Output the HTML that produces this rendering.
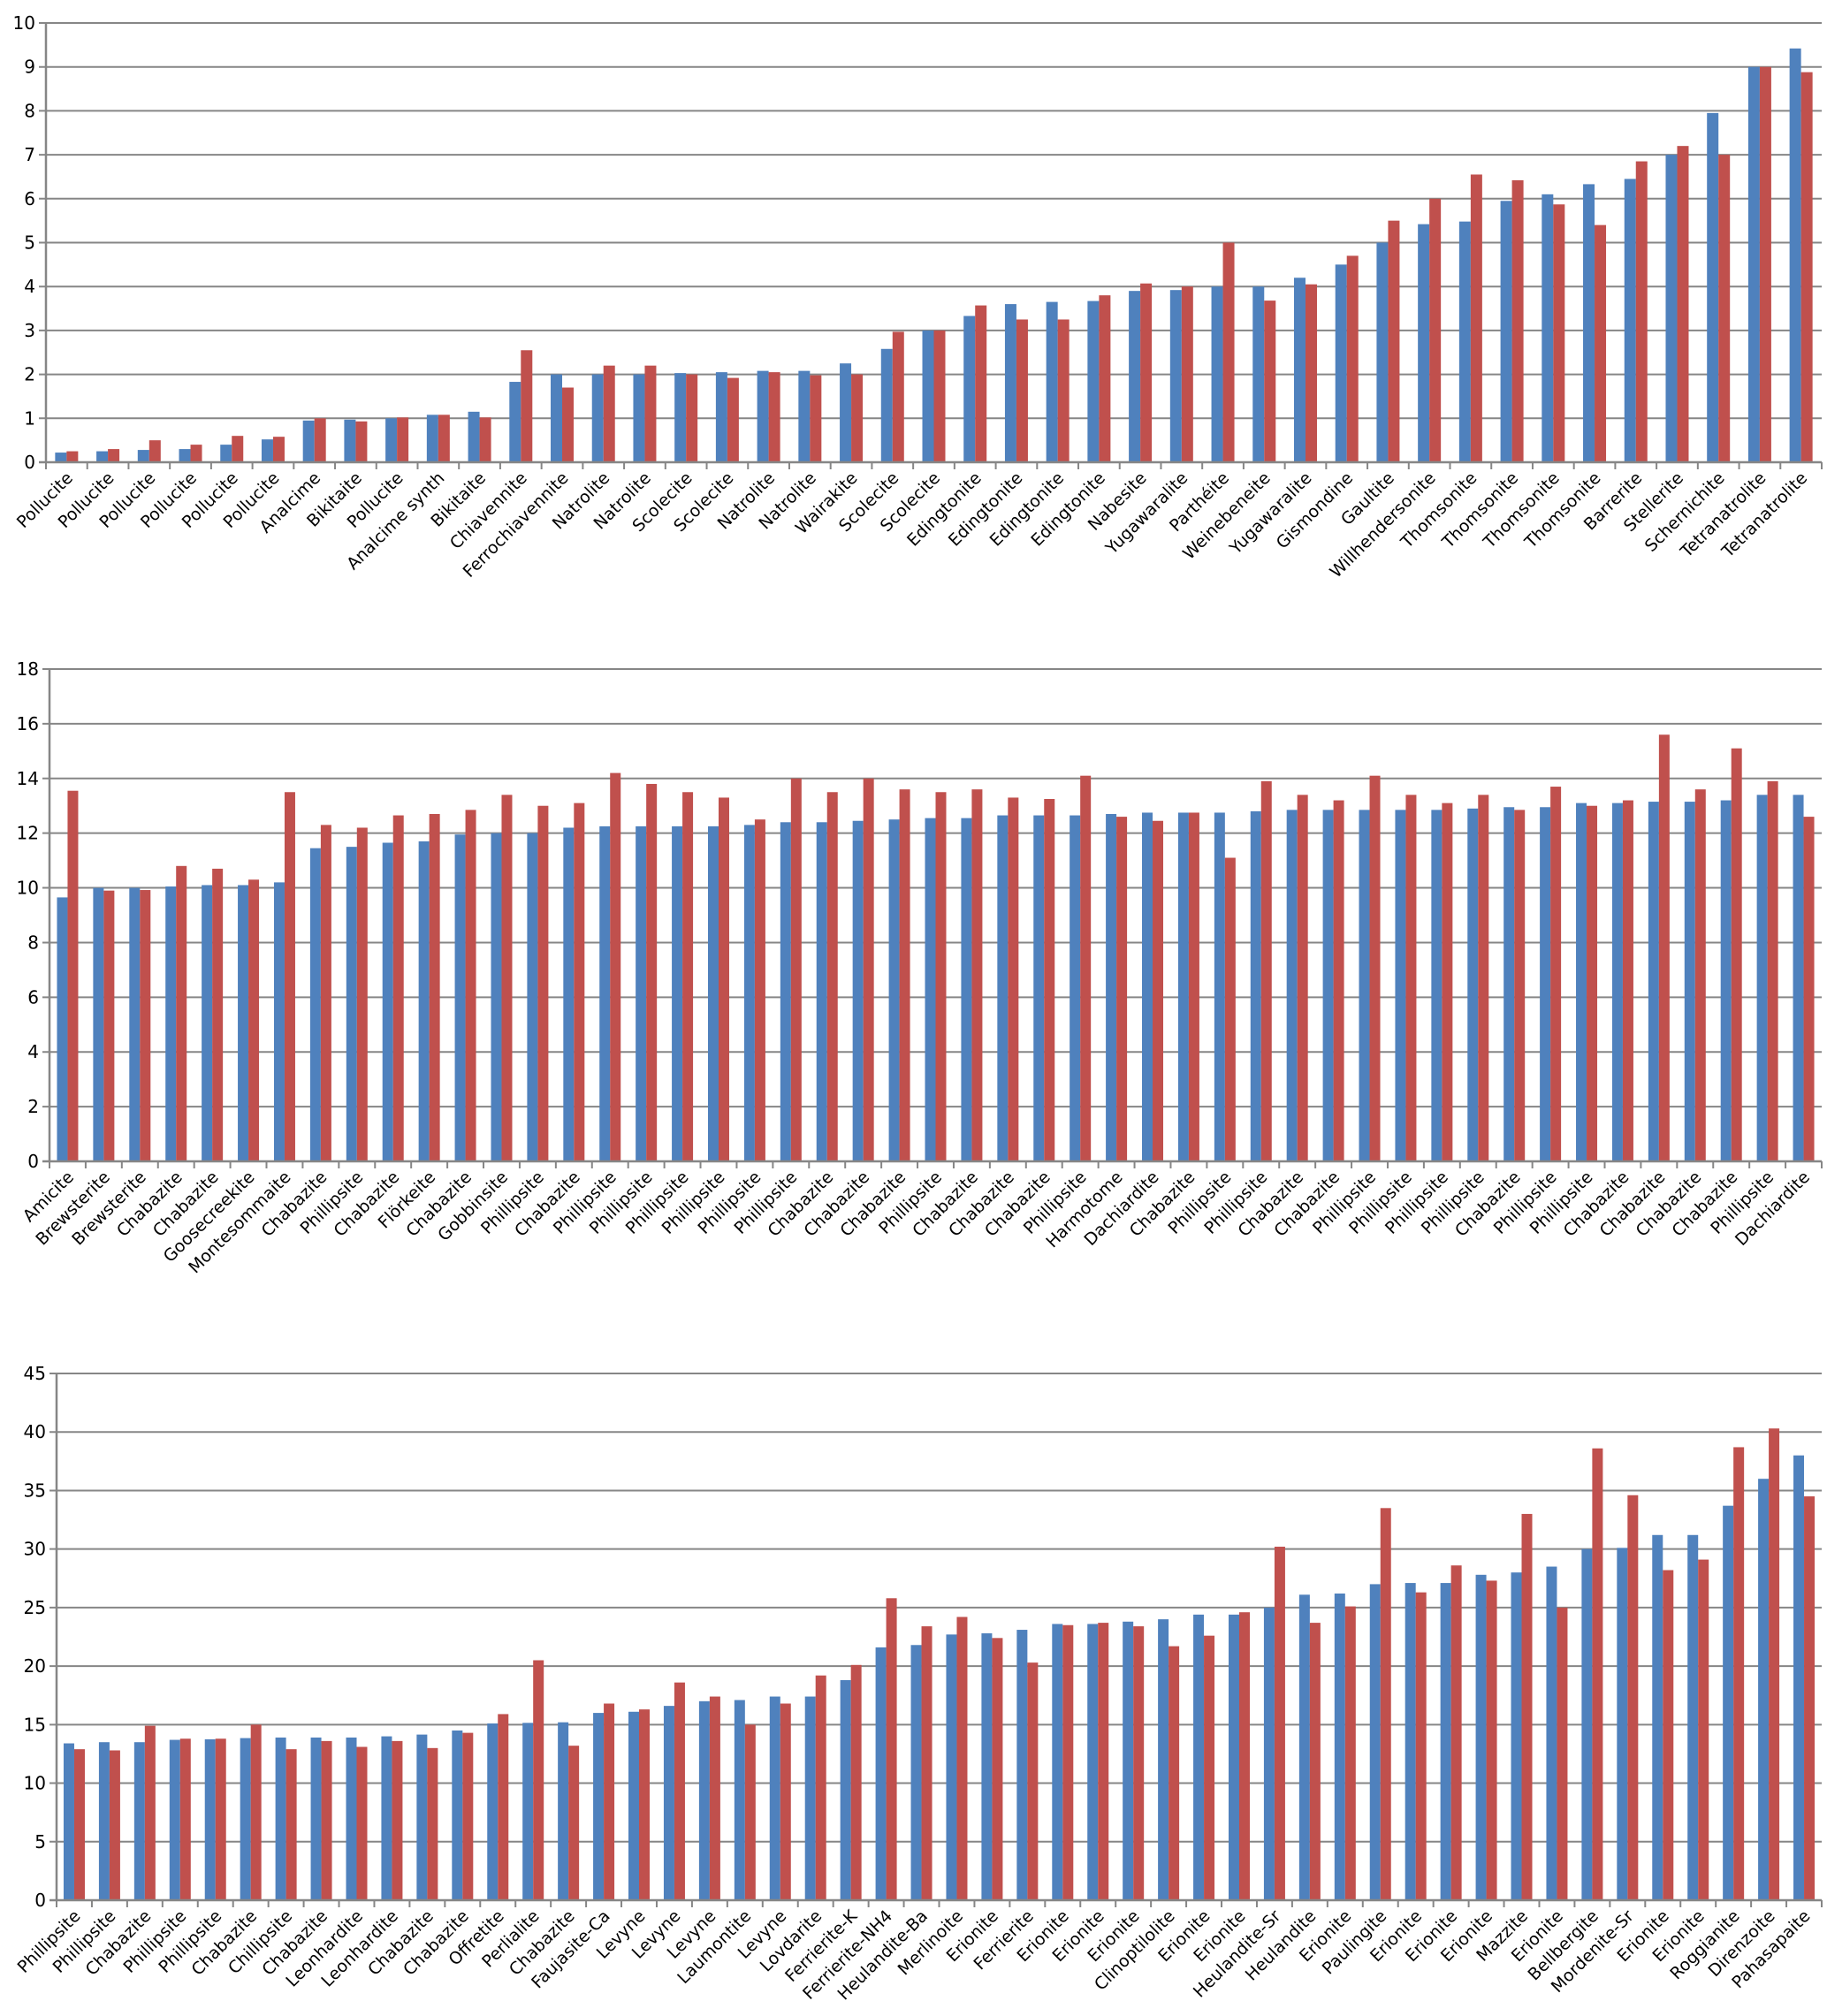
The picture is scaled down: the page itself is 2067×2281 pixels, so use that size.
<!DOCTYPE html>
<html><head><meta charset="utf-8"><style>
html,body{margin:0;padding:0;background:#fff;}
svg{display:block;}
text{font-family:"DejaVu Sans","Liberation Sans",sans-serif;fill:#000;}
.lb{font-size:19px;}
.tk{font-size:20px;}
</style></head><body>
<svg id="s" width="2067" height="2281" viewBox="0 0 2067 2281" xmlns="http://www.w3.org/2000/svg">
<g id="g1"></g><g id="g2"></g><g id="g3"></g>
<g id="t1" class="tk"><text>0</text><text>1</text><text>2</text><text>3</text><text>4</text><text>5</text><text>6</text><text>7</text><text>8</text><text>9</text><text>10</text></g>
<g id="t2" class="tk"><text>0</text><text>2</text><text>4</text><text>6</text><text>8</text><text>10</text><text>12</text><text>14</text><text>16</text><text>18</text></g>
<g id="t3" class="tk"><text>0</text><text>5</text><text>10</text><text>15</text><text>20</text><text>25</text><text>30</text><text>35</text><text>40</text><text>45</text></g>
<g id="l1" class="lb"><text>Pollucite</text><text>Pollucite</text><text>Pollucite</text><text>Pollucite</text><text>Pollucite</text><text>Pollucite</text><text>Analcime</text><text>Bikitaite</text><text>Pollucite</text><text>Analcime synth</text><text>Bikitaite</text><text>Chiavennite</text><text>Ferrochiavennite</text><text>Natrolite</text><text>Natrolite</text><text>Scolecite</text><text>Scolecite</text><text>Natrolite</text><text>Natrolite</text><text>Wairakite</text><text>Scolecite</text><text>Scolecite</text><text>Edingtonite</text><text>Edingtonite</text><text>Edingtonite</text><text>Edingtonite</text><text>Nabesite</text><text>Yugawaralite</text><text>Parthéite</text><text>Weinebeneite</text><text>Yugawaralite</text><text>Gismondine</text><text>Gaultite</text><text>Willhendersonite</text><text>Thomsonite</text><text>Thomsonite</text><text>Thomsonite</text><text>Thomsonite</text><text>Barrerite</text><text>Stellerite</text><text>Schernichite</text><text>Tetranatrolite</text><text>Tetranatrolite</text></g>
<g id="l2" class="lb"><text>Amicite</text><text>Brewsterite</text><text>Brewsterite</text><text>Chabazite</text><text>Chabazite</text><text>Goosecreekite</text><text>Montesommaite</text><text>Chabazite</text><text>Phillipsite</text><text>Chabazite</text><text>Flörkeite</text><text>Chabazite</text><text>Gobbinsite</text><text>Phillipsite</text><text>Chabazite</text><text>Phillipsite</text><text>Phillipsite</text><text>Phillipsite</text><text>Phillipsite</text><text>Phillipsite</text><text>Phillipsite</text><text>Chabazite</text><text>Chabazite</text><text>Chabazite</text><text>Phillipsite</text><text>Chabazite</text><text>Chabazite</text><text>Chabazite</text><text>Phillipsite</text><text>Harmotome</text><text>Dachiardite</text><text>Chabazite</text><text>Phillipsite</text><text>Phillipsite</text><text>Chabazite</text><text>Chabazite</text><text>Phillipsite</text><text>Phillipsite</text><text>Phillipsite</text><text>Phillipsite</text><text>Chabazite</text><text>Phillipsite</text><text>Phillipsite</text><text>Chabazite</text><text>Chabazite</text><text>Chabazite</text><text>Chabazite</text><text>Phillipsite</text><text>Dachiardite</text></g>
<g id="l3" class="lb"><text>Phillipsite</text><text>Phillipsite</text><text>Chabazite</text><text>Phillipsite</text><text>Phillipsite</text><text>Chabazite</text><text>Chillipsite</text><text>Chabazite</text><text>Leonhardite</text><text>Leonhardite</text><text>Chabazite</text><text>Chabazite</text><text>Offretite</text><text>Perlialite</text><text>Chabazite</text><text>Faujasite-Ca</text><text>Levyne</text><text>Levyne</text><text>Levyne</text><text>Laumontite</text><text>Levyne</text><text>Lovdarite</text><text>Ferrierite-K</text><text>Ferrierite-NH4</text><text>Heulandite-Ba</text><text>Merlinoite</text><text>Erionite</text><text>Ferrierite</text><text>Erionite</text><text>Erionite</text><text>Erionite</text><text>Clinoptilolite</text><text>Erionite</text><text>Erionite</text><text>Heulandite-Sr</text><text>Heulandite</text><text>Erionite</text><text>Paulingite</text><text>Erionite</text><text>Erionite</text><text>Erionite</text><text>Mazzite</text><text>Erionite</text><text>Bellbergite</text><text>Mordenite-Sr</text><text>Erionite</text><text>Erionite</text><text>Roggianite</text><text>Direnzoite</text><text>Pahasapaite</text></g>
</svg>
<script>
var NS="http://www.w3.org/2000/svg";
function el(p,n,a){var e=document.createElementNS(NS,n);for(var k in a)e.setAttribute(k,a[k]);p.appendChild(e);return e;}
var charts=[
{g:"g1",t:"t1",l:"l1",x0:52,x1:2061,y0:523,yt:26,max:10,step:1,bw:13,
d:[[.22,.25],[.25,.3],[.28,.5],[.3,.4],[.4,.6],[.52,.58],[.95,1],[.97,.93],[1,1.02],[1.08,1.08],[1.15,1.02],[1.83,2.55],[2,1.7],[2,2.2],[2,2.2],[2.03,2],[2.05,1.92],[2.08,2.05],[2.08,1.98],[2.25,2],[2.58,2.97],[3,3],[3.33,3.57],[3.6,3.25],[3.65,3.25],[3.67,3.8],[3.9,4.07],[3.92,4],[4,5],[4,3.68],[4.2,4.05],[4.5,4.7],[5,5.5],[5.42,6],[5.48,6.55],[5.95,6.42],[6.1,5.87],[6.33,5.4],[6.45,6.85],[7,7.2],[7.95,7],[9,9],[9.42,8.88]]},
{g:"g2",t:"t2",l:"l2",x0:56,x1:2061,y0:1314,yt:757,max:18,step:2,bw:12,
d:[[9.65,13.55],[10,9.9],[10,9.92],[10.05,10.8],[10.1,10.7],[10.1,10.3],[10.2,13.5],[11.45,12.3],[11.5,12.2],[11.65,12.65],[11.7,12.7],[11.95,12.85],[12,13.4],[12,13],[12.2,13.1],[12.25,14.2],[12.25,13.8],[12.25,13.5],[12.25,13.3],[12.3,12.5],[12.4,14],[12.4,13.5],[12.45,14],[12.5,13.6],[12.55,13.5],[12.55,13.6],[12.65,13.3],[12.65,13.25],[12.65,14.1],[12.7,12.6],[12.75,12.45],[12.75,12.75],[12.75,11.1],[12.8,13.9],[12.85,13.4],[12.85,13.2],[12.85,14.1],[12.85,13.4],[12.85,13.1],[12.9,13.4],[12.95,12.85],[12.95,13.7],[13.1,13],[13.1,13.2],[13.15,15.6],[13.15,13.6],[13.2,15.1],[13.4,13.9],[13.4,12.6]]},
{g:"g3",t:"t3",l:"l3",x0:64,x1:2061,y0:2150,yt:1554,max:45,step:5,bw:12,
d:[[13.4,12.9],[13.5,12.8],[13.5,14.9],[13.7,13.8],[13.75,13.8],[13.85,15],[13.9,12.9],[13.9,13.6],[13.9,13.1],[14,13.6],[14.15,13],[14.5,14.3],[15.1,15.9],[15.15,20.5],[15.2,13.2],[16,16.8],[16.1,16.3],[16.6,18.6],[17,17.4],[17.1,15],[17.4,16.8],[17.4,19.2],[18.8,20.1],[21.6,25.8],[21.8,23.4],[22.7,24.2],[22.8,22.4],[23.1,20.3],[23.6,23.5],[23.6,23.7],[23.8,23.4],[24,21.7],[24.4,22.6],[24.4,24.6],[25,30.2],[26.1,23.7],[26.2,25.1],[27,33.5],[27.1,26.3],[27.1,28.6],[27.8,27.3],[28,33],[28.5,25],[30,38.6],[30.1,34.6],[31.2,28.2],[31.2,29.1],[33.7,38.7],[36,40.3],[38,34.5]]}];
charts.forEach(function(c){
 var g=document.getElementById(c.g),n=c.d.length,w=(c.x1-c.x0)/n,sc=(c.y0-c.yt)/c.max;
 for(var v=c.step;v<=c.max+1e-9;v+=c.step){var y=c.y0-v*sc;el(g,"line",{x1:c.x0-8,x2:c.x1,y1:y,y2:y,stroke:"#868686","stroke-width":2});}
 var ts=document.getElementById(c.t).children;
 for(var i=0;i<ts.length;i++){var y=c.y0-i*c.step*sc;ts[i].setAttribute("x",c.x0-12);ts[i].setAttribute("y",y+7);ts[i].setAttribute("text-anchor","end");}
 c.d.forEach(function(p,i){var cx=c.x0+w*(i+0.5);
  el(g,"rect",{x:cx-c.bw,y:c.y0-p[0]*sc,width:c.bw,height:p[0]*sc,fill:"#4F81BD"});
  el(g,"rect",{x:cx,y:c.y0-p[1]*sc,width:c.bw,height:p[1]*sc,fill:"#C0504D"});
 });
 for(var i=0;i<=n;i++){var x=c.x0+w*i;el(g,"line",{x1:x,x2:x,y1:c.y0,y2:c.y0+8,stroke:"#868686","stroke-width":2});}
 el(g,"line",{x1:c.x0-8,x2:c.x1,y1:c.y0,y2:c.y0,stroke:"#868686","stroke-width":2.5});
 el(g,"line",{x1:c.x0,x2:c.x0,y1:c.yt,y2:c.y0,stroke:"#868686","stroke-width":2.5});
 var ls=document.getElementById(c.l).children;
 for(var i=0;i<ls.length;i++){var cx=c.x0+w*(i+0.5);ls[i].setAttribute("text-anchor","end");ls[i].setAttribute("transform","translate("+(cx+8)+","+(c.y0+19)+") rotate(-45)");}
});
</script>
</body></html>
